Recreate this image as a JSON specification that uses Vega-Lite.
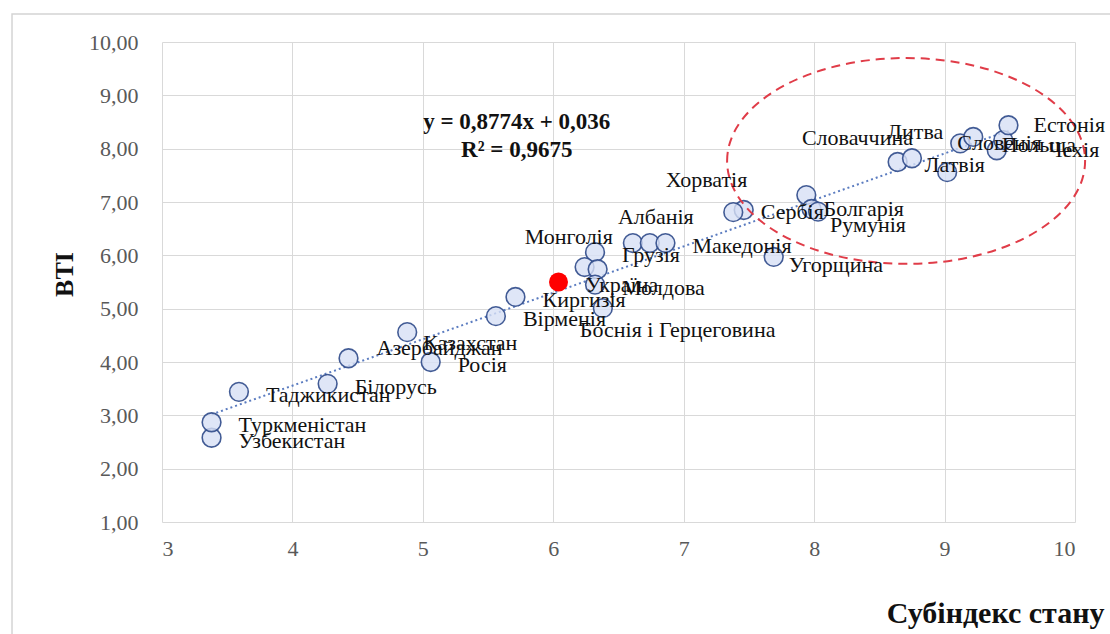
{
  "$schema": "https://vega.github.io/schema/vega-lite/v6.json",
  "width": 913,
  "height": 480,
  "autosize": {"type": "none"},
  "padding": {"left": 162, "top": 42, "right": 35, "bottom": 112},
  "background": "white",
  "config": {"view": {"stroke": null}, "font": "Liberation Serif"},
  "datasets": {
    "pts": [
      {"c": "Узбекистан", "x": 3.38, "y": 2.58},
      {"c": "Туркменістан", "x": 3.38, "y": 2.87},
      {"c": "Таджикистан", "x": 3.59, "y": 3.44},
      {"c": "Білорусь", "x": 4.27, "y": 3.59},
      {"c": "Азербайджан", "x": 4.43, "y": 4.07},
      {"c": "Казахстан", "x": 4.88, "y": 4.56},
      {"c": "Росія", "x": 5.06, "y": 4.0},
      {"c": "Вірменія", "x": 5.56, "y": 4.86},
      {"c": "Киргизія", "x": 5.71, "y": 5.22},
      {"c": "Україна", "x": 6.04, "y": 5.5},
      {"c": "Грузія", "x": 6.32, "y": 6.06},
      {"c": "", "x": 6.24, "y": 5.78},
      {"c": "", "x": 6.34, "y": 5.74},
      {"c": "Молдова", "x": 6.32, "y": 5.45},
      {"c": "Боснія і Герцеговина", "x": 6.38, "y": 5.01},
      {"c": "Монголія", "x": 6.61, "y": 6.23},
      {"c": "Албанія", "x": 6.74, "y": 6.23},
      {"c": "Македонія", "x": 6.86, "y": 6.23},
      {"c": "Сербія", "x": 7.46, "y": 6.85},
      {"c": "", "x": 7.38, "y": 6.81},
      {"c": "Угорщина", "x": 7.69, "y": 5.97},
      {"c": "Хорватія", "x": 7.94, "y": 7.13},
      {"c": "Болгарія", "x": 7.98, "y": 6.87},
      {"c": "Румунія", "x": 8.03, "y": 6.82},
      {"c": "Латвія", "x": 8.64, "y": 7.75},
      {"c": "Словаччина", "x": 8.75, "y": 7.82},
      {"c": "", "x": 9.02, "y": 7.56},
      {"c": "Словенія", "x": 9.12, "y": 8.1},
      {"c": "Литва", "x": 9.22, "y": 8.22},
      {"c": "Польща", "x": 9.4, "y": 7.97},
      {"c": "Чехія", "x": 9.45, "y": 8.16},
      {"c": "Естонія", "x": 9.49, "y": 8.44}
    ],
    "notes": [
      {"t": "y = 0,8774x + 0,036", "x": 5.72, "y": 8.5},
      {"t": "R² = 0,9675", "x": 5.72, "y": 7.97}
    ],
    "zone": [{"x": 8.705, "y": 7.77}]
  },
  "layer": [
    {
      "data": {"values": [{}]},
      "mark": {"type": "rect", "fill": null, "stroke": "#d4d4d4", "strokeWidth": 1.5, "clip": false},
      "encoding": {
        "x": {"datum": 1.85, "type": "quantitative", "scale": {"domain": [3, 10], "nice": false, "zero": false}},
        "x2": {"datum": 10.5},
        "y": {"datum": 10.525, "type": "quantitative", "scale": {"domain": [1, 10], "nice": false, "zero": false}},
        "y2": {"datum": -1.5}
      }
    },
    {
      "data": {"name": "pts"},
      "transform": [{"regression": "y", "on": "x"}],
      "mark": {"type": "line", "strokeDash": [2, 3], "color": "#5b7cc0", "strokeWidth": 2},
      "encoding": {
        "x": {
          "field": "x", "type": "quantitative",
          "scale": {"domain": [3, 10], "nice": false, "zero": false},
          "axis": {
            "values": [3, 4, 5, 6, 7, 8, 9, 10],
            "format": "d",
            "grid": true, "gridColor": "#d9d9d9", "gridWidth": 1,
            "domain": false, "ticks": false,
            "labelFont": "Liberation Serif", "labelFontSize": 22, "labelColor": "#595959", "labelPadding": 16,
            "title": "Субіндекс стану",
            "titleFont": "Liberation Serif", "titleFontSize": 30, "titleFontWeight": "bold", "titleColor": "#111111",
            "titleAlign": "right", "titleAnchor": null, "titleX": 942, "titleY": 100, "titleBaseline": "alphabetic"
          }
        },
        "y": {
          "field": "y", "type": "quantitative",
          "scale": {"domain": [1, 10], "nice": false, "zero": false},
          "axis": {
            "values": [1, 2, 3, 4, 5, 6, 7, 8, 9, 10],
            "labelExpr": "replace(format(datum.value, '.2f'), '.', ',')",
            "grid": true, "gridColor": "#d9d9d9", "gridWidth": 1,
            "domain": false, "ticks": false,
            "labelFont": "Liberation Serif", "labelFontSize": 22, "labelColor": "#595959", "labelPadding": 24,
            "title": "BTI",
            "titleFont": "Liberation Serif", "titleFontSize": 26, "titleFontWeight": "bold", "titleColor": "#111111",
            "titleX": -90, "titleY": 232, "titleAlign": "center", "titleBaseline": "alphabetic", "titleAngle": -90
          }
        }
      }
    },
    {
      "data": {"name": "pts"},
      "transform": [{"filter": "datum.c != 'Україна'"}],
      "mark": {"type": "point", "shape": "circle", "filled": true, "size": 350, "fill": "#d7e0f5", "fillOpacity": 0.8, "stroke": "#2f4a8a", "strokeWidth": 1.6, "strokeOpacity": 0.9},
      "encoding": {"x": {"field": "x", "type": "quantitative"}, "y": {"field": "y", "type": "quantitative"}}
    },
    {
      "data": {"name": "pts"},
      "transform": [{"filter": "datum.c == 'Україна'"}],
      "mark": {"type": "point", "shape": "circle", "filled": true, "size": 360, "fill": "#ff0000", "opacity": 1, "strokeWidth": 0},
      "encoding": {"x": {"field": "x", "type": "quantitative"}, "y": {"field": "y", "type": "quantitative"}}
    },
    {
      "data": {"name": "zone"},
      "mark": {"type": "point", "shape": "M -1 0 A 1 0.575 0 1 1 1 0 A 1 0.575 0 1 1 -1 0 Z", "filled": false, "size": 128164, "stroke": "#e03c48", "strokeWidth": 2, "strokeDash": [9, 6], "opacity": 1},
      "encoding": {"x": {"field": "x", "type": "quantitative"}, "y": {"field": "y", "type": "quantitative"}}
    },
    {
      "data": {"name": "notes"},
      "mark": {"type": "text", "align": "center", "baseline": "middle", "fontSize": 23, "fontWeight": "bold", "font": "Liberation Serif", "color": "#111111"},
      "encoding": {"x": {"field": "x", "type": "quantitative"}, "y": {"field": "y", "type": "quantitative"}, "text": {"field": "t"}}
    },
    {
      "data": {"name": "pts"},
      "transform": [{"filter": {"field": "c", "oneOf": ["Узбекистан", "Туркменістан", "Таджикистан", "Білорусь", "Росія", "Вірменія", "Киргизія", "Україна", "Грузія", "Молдова", "Македонія", "Латвія"]}}],
      "mark": {"type": "text", "align": "left", "baseline": "middle", "dx": 27, "dy": 3, "fontSize": 22, "font": "Liberation Serif", "color": "#111111"},
      "encoding": {"x": {"field": "x", "type": "quantitative"}, "y": {"field": "y", "type": "quantitative"}, "text": {"field": "c"}}
    },
    {
      "data": {"name": "pts"},
      "transform": [{"filter": "datum.c == 'Азербайджан'"}],
      "mark": {"type": "text", "align": "left", "baseline": "middle", "dx": 28, "dy": -10, "fontSize": 22, "font": "Liberation Serif", "color": "#111111"},
      "encoding": {"x": {"field": "x", "type": "quantitative"}, "y": {"field": "y", "type": "quantitative"}, "text": {"field": "c"}}
    },
    {
      "data": {"name": "pts"},
      "transform": [{"filter": "datum.c == 'Казахстан'"}],
      "mark": {"type": "text", "align": "left", "baseline": "middle", "dx": 16, "dy": 11, "fontSize": 22, "font": "Liberation Serif", "color": "#111111"},
      "encoding": {"x": {"field": "x", "type": "quantitative"}, "y": {"field": "y", "type": "quantitative"}, "text": {"field": "c"}}
    },
    {
      "data": {"name": "pts"},
      "transform": [{"filter": "datum.c == 'Монголія'"}],
      "mark": {"type": "text", "align": "right", "baseline": "middle", "dx": -20, "dy": -6, "fontSize": 22, "font": "Liberation Serif", "color": "#111111"},
      "encoding": {"x": {"field": "x", "type": "quantitative"}, "y": {"field": "y", "type": "quantitative"}, "text": {"field": "c"}}
    },
    {
      "data": {"name": "pts"},
      "transform": [{"filter": "datum.c == 'Албанія'"}],
      "mark": {"type": "text", "align": "center", "baseline": "middle", "dx": 6, "dy": -26, "fontSize": 22, "font": "Liberation Serif", "color": "#111111"},
      "encoding": {"x": {"field": "x", "type": "quantitative"}, "y": {"field": "y", "type": "quantitative"}, "text": {"field": "c"}}
    },
    {
      "data": {"name": "pts"},
      "transform": [{"filter": "datum.c == 'Боснія і Герцеговина'"}],
      "mark": {"type": "text", "align": "left", "baseline": "middle", "dx": -23, "dy": 22, "fontSize": 22, "font": "Liberation Serif", "color": "#111111"},
      "encoding": {"x": {"field": "x", "type": "quantitative"}, "y": {"field": "y", "type": "quantitative"}, "text": {"field": "c"}}
    },
    {
      "data": {"name": "pts"},
      "transform": [{"filter": "datum.c == 'Сербія'"}],
      "mark": {"type": "text", "align": "left", "baseline": "middle", "dx": 17, "dy": 2, "fontSize": 22, "font": "Liberation Serif", "color": "#111111"},
      "encoding": {"x": {"field": "x", "type": "quantitative"}, "y": {"field": "y", "type": "quantitative"}, "text": {"field": "c"}}
    },
    {
      "data": {"name": "pts"},
      "transform": [{"filter": "datum.c == 'Хорватія'"}],
      "mark": {"type": "text", "align": "right", "baseline": "middle", "dx": -59, "dy": -15, "fontSize": 22, "font": "Liberation Serif", "color": "#111111"},
      "encoding": {"x": {"field": "x", "type": "quantitative"}, "y": {"field": "y", "type": "quantitative"}, "text": {"field": "c"}}
    },
    {
      "data": {"name": "pts"},
      "transform": [{"filter": "datum.c == 'Болгарія'"}],
      "mark": {"type": "text", "align": "left", "baseline": "middle", "dx": 12, "dy": 0, "fontSize": 22, "font": "Liberation Serif", "color": "#111111"},
      "encoding": {"x": {"field": "x", "type": "quantitative"}, "y": {"field": "y", "type": "quantitative"}, "text": {"field": "c"}}
    },
    {
      "data": {"name": "pts"},
      "transform": [{"filter": "datum.c == 'Румунія'"}],
      "mark": {"type": "text", "align": "left", "baseline": "middle", "dx": 12, "dy": 13, "fontSize": 22, "font": "Liberation Serif", "color": "#111111"},
      "encoding": {"x": {"field": "x", "type": "quantitative"}, "y": {"field": "y", "type": "quantitative"}, "text": {"field": "c"}}
    },
    {
      "data": {"name": "pts"},
      "transform": [{"filter": "datum.c == 'Угорщина'"}],
      "mark": {"type": "text", "align": "left", "baseline": "middle", "dx": 15, "dy": 8, "fontSize": 22, "font": "Liberation Serif", "color": "#111111"},
      "encoding": {"x": {"field": "x", "type": "quantitative"}, "y": {"field": "y", "type": "quantitative"}, "text": {"field": "c"}}
    },
    {
      "data": {"name": "pts"},
      "transform": [{"filter": "datum.c == 'Словаччина'"}],
      "mark": {"type": "text", "align": "right", "baseline": "middle", "dx": 1, "dy": -20, "fontSize": 22, "font": "Liberation Serif", "color": "#111111"},
      "encoding": {"x": {"field": "x", "type": "quantitative"}, "y": {"field": "y", "type": "quantitative"}, "text": {"field": "c"}}
    },
    {
      "data": {"name": "pts"},
      "transform": [{"filter": "datum.c == 'Литва'"}],
      "mark": {"type": "text", "align": "right", "baseline": "middle", "dx": -30, "dy": -5, "fontSize": 22, "font": "Liberation Serif", "color": "#111111"},
      "encoding": {"x": {"field": "x", "type": "quantitative"}, "y": {"field": "y", "type": "quantitative"}, "text": {"field": "c"}}
    },
    {
      "data": {"name": "pts"},
      "transform": [{"filter": "datum.c == 'Словенія'"}],
      "mark": {"type": "text", "align": "left", "baseline": "middle", "dx": -3, "dy": 0, "fontSize": 22, "font": "Liberation Serif", "color": "#111111"},
      "encoding": {"x": {"field": "x", "type": "quantitative"}, "y": {"field": "y", "type": "quantitative"}, "text": {"field": "c"}}
    },
    {
      "data": {"name": "pts"},
      "transform": [{"filter": "datum.c == 'Польща'"}],
      "mark": {"type": "text", "align": "left", "baseline": "middle", "dx": 5, "dy": -5, "fontSize": 22, "font": "Liberation Serif", "color": "#111111"},
      "encoding": {"x": {"field": "x", "type": "quantitative"}, "y": {"field": "y", "type": "quantitative"}, "text": {"field": "c"}}
    },
    {
      "data": {"name": "pts"},
      "transform": [{"filter": "datum.c == 'Чехія'"}],
      "mark": {"type": "text", "align": "left", "baseline": "middle", "dx": 45, "dy": 10, "fontSize": 22, "font": "Liberation Serif", "color": "#111111"},
      "encoding": {"x": {"field": "x", "type": "quantitative"}, "y": {"field": "y", "type": "quantitative"}, "text": {"field": "c"}}
    },
    {
      "data": {"name": "pts"},
      "transform": [{"filter": "datum.c == 'Естонія'"}],
      "mark": {"type": "text", "align": "left", "baseline": "middle", "dx": 25, "dy": 0, "fontSize": 22, "font": "Liberation Serif", "color": "#111111"},
      "encoding": {"x": {"field": "x", "type": "quantitative"}, "y": {"field": "y", "type": "quantitative"}, "text": {"field": "c"}}
    }
  ]
}
